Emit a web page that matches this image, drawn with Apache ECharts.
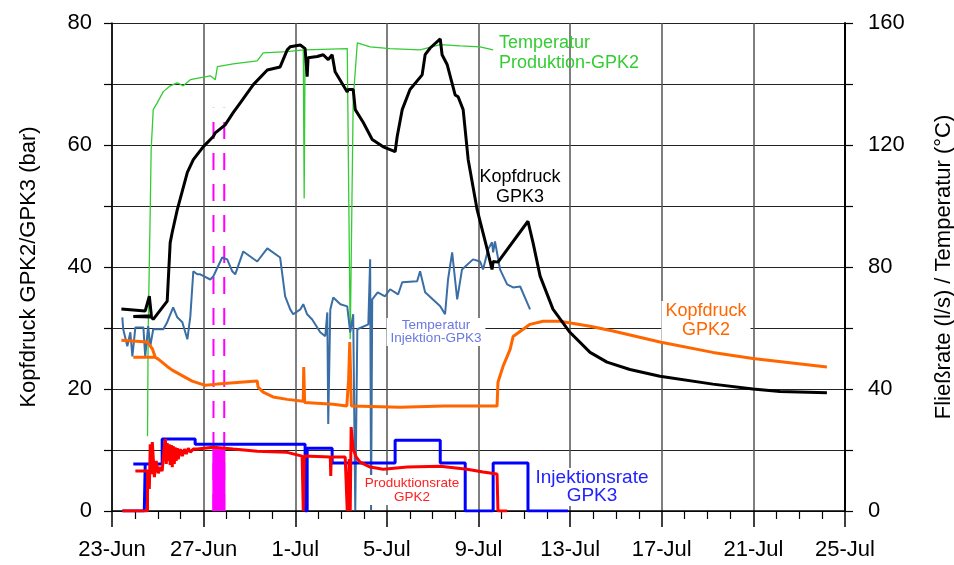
<!DOCTYPE html>
<html>
<head>
<meta charset="utf-8">
<script src="https://cdn.jsdelivr.net/npm/echarts@6/dist/echarts.min.js"></script>
<style>
html,body{margin:0;padding:0;background:#fff;}
#chart{width:954px;height:565px;}
</style>
</head>
<body>
<div id="chart"></div>
<script>
// x = days since 23-Jun
var dateTickLabels = ['23-Jun','27-Jun','1-Jul','5-Jul','9-Jul','13-Jul','17-Jul','21-Jul','25-Jul'];

// Kopfdruck GPK3 (bar)
var kopfdruckGPK3 = [
[0.41,33.1],[1.45,32.8],[1.63,35.2],[1.72,32.0],[0.93,31.9],[1.72,31.8],[1.8,31.4],[2.41,34.4],[2.54,44.0],[2.63,45.7],
[2.85,49.4],[3.29,55.5],[3.55,57.6],[3.98,59.7],[4.42,61.4],[4.51,62.0],[4.94,63.3],[5.29,65.3],[5.6,66.9],
[6.17,69.9],[6.78,72.3],[7.34,72.8],[7.65,75.6],[7.78,76.1],[8.22,76.4],[8.43,75.8],[8.52,71.2],[8.56,74.3],
[8.96,74.5],[9.22,74.8],[9.44,74.0],[9.61,74.8],[9.74,72.0],[10.27,68.7],[10.31,69.1],[10.53,69.1],[10.62,65.8],
[10.97,63.7],[11.36,60.9],[11.84,59.7],[12.36,58.9],[12.45,61.4],[12.67,65.8],[13.01,69.1],[13.54,71.5],
[13.67,74.8],[13.89,75.9],[14.33,77.4],[14.41,74.8],[14.63,73.2],[14.98,68.2],[15.11,67.9],[15.33,65.8],
[15.55,57.6],[15.94,49.4],[16.38,42.9],[16.59,39.6],[16.64,40.9],[16.85,40.8],[18.16,47.5],[18.38,44.0],
[18.69,38.5],[19.25,33.1],[19.99,29.3],[20.87,26.0],[21.61,24.4],[22.61,23.2],[23.92,22.1],[26.23,20.8],
[27.98,20.0],[29.16,19.6],[31.21,19.4]
];

// Kopfdruck GPK2 (bar)
var kopfdruckGPK2 = [
[0.41,28.0],[1.54,27.7],[1.76,26.6],[1.89,25.2],[0.93,25.2],[1.89,25.2],[2.02,24.9],[2.41,23.7],[2.63,23.1],
[3.2,21.9],[3.5,21.3],[4.07,20.6],[4.6,20.8],[5.6,21.1],[6.34,21.3],[6.38,20.3],[6.6,19.5],[7.03,18.7],
[7.65,18.3],[8.35,18.0],[8.37,23.6],[8.41,17.8],[9.66,17.5],[10.25,17.2],[10.33,21.6],[10.38,27.7],[10.45,17.2],
[12.58,17.0],[14.5,17.2],[16.81,17.2],[16.85,21.1],[17.07,23.7],[17.38,26.5],[17.51,28.6],[18.25,30.6],
[18.82,31.1],[19.56,31.1],[20.87,30.3],[21.87,29.5],[23.92,27.7],[26.23,26.0],[27.98,25.0],[31.21,23.6]
];

// Temperatur Produktion-GPK2 (°C)
var tempProduktion = [
[1.55,24.5],[1.58,59.6],[1.67,98.9],[1.71,118.5],[1.8,131.6],[1.98,133.9],[2.24,137.5],[2.54,139.4],
[2.85,140.4],[3.11,139.4],[3.42,141.4],[4.29,142.7],[4.51,141.4],[4.6,145.7],[5.29,146.6],[6.34,147.6],
[6.6,150.2],[7.65,150.6],[8.35,151.2],[8.39,102.5],[8.43,151.2],[10.27,151.6],[10.4,56.3],[10.53,134.9],
[10.71,153.5],[11.27,152.2],[12.14,151.6],[13.45,151.2],[14.33,152.9],[15.2,152.5],[16.07,152.2],[16.64,151.2]
];

// Temperatur Injektion-GPK3 (°C)
var tempInjektion = [
[0.45,63.5],[0.49,59.6],[0.67,54.0],[0.8,58.6],[0.89,50.7],[1.02,60.2],[1.37,60.2],[1.45,50.7],[1.58,60.6],
[1.67,54.0],[1.8,59.6],[2.24,59.6],[2.41,61.9],[2.67,66.8],[2.85,63.5],[3.07,61.9],[3.29,56.3],[3.42,63.8],
[3.55,78.6],[3.72,77.6],[3.85,77.6],[4.29,75.9],[4.42,76.9],[4.81,83.1],[5.03,82.5],[5.25,78.6],[5.38,77.6],
[5.73,85.1],[6.34,81.8],[6.78,86.1],[7.34,83.1],[7.56,70.4],[7.78,66.1],[7.91,64.5],[8.22,66.1],[8.35,67.8],
[8.52,64.5],[8.74,62.8],[9.09,58.6],[9.31,57.3],[9.4,65.1],[9.44,28.5],[9.53,66.1],[9.66,70.0],[9.97,67.8],
[10.27,67.1],[10.4,58.6],[10.53,64.5],[10.62,0.3],[10.71,59.6],[11.19,61.2],[11.27,82.5],[11.31,0.3],
[11.36,69.4],[11.6,71.7],[11.92,70.4],[12.14,72.7],[12.49,71.0],[12.67,75.0],[13.32,75.3],[13.45,78.6],
[13.67,71.7],[14.33,67.1],[14.54,64.5],[14.67,75.9],[14.85,84.8],[15.07,69.4],[15.28,79.2],[15.76,82.5],
[16.07,81.8],[16.2,79.2],[16.42,85.8],[16.59,88.1],[16.64,84.8],[16.72,88.4],[16.94,79.2],[17.25,74.3],
[17.51,73.3],[17.82,73.6],[18.25,66.1]
];

// Injektionsrate GPK3 (l/s)
var injektionsrate = [
[0.45,0],[1.41,0],[1.45,15.4],[0.93,15.4],[2.19,15.4],[2.19,23.6],[3.63,23.6],[3.63,21.9],[8.43,21.9],
[8.43,0],[8.52,0],[8.52,20.6],[9.61,20.6],[9.61,15.7],[12.36,15.7],[12.36,23.2],[14.33,23.2],[14.33,15.7],
[15.42,15.7],[15.42,0],[16.64,0],[16.64,15.7],[18.16,15.7],[18.16,0],[19.91,0]
];

// Produktionsrate GPK2 (l/s)
var produktionsrate = [
[0.45,0],[1.55,0],[1.55,13.1],[1.02,13.1],[1.59,13.1],[1.57,13.7],[1.63,7.2],[1.67,21.9],[1.72,12.1],
[1.76,22.6],[1.85,11.1],[1.93,16.4],[2.02,12.4],[2.11,14.4],[2.19,13.1],[2.28,20.9],[2.33,23.6],[2.37,15.4],
[2.41,22.3],[2.46,16.4],[2.5,21.9],[2.54,15.1],[2.59,21.6],[2.63,14.4],[2.67,21.3],[2.72,15.4],[2.76,20.9],
[2.8,16.4],[2.85,20.6],[2.89,17.0],[2.98,20.3],[3.07,18.0],[3.16,20.3],[3.24,18.7],[3.33,20.6],[3.42,19.3],
[3.55,20.3],[3.72,20.3],[4.42,20.9],[5.29,20.3],[6.34,19.6],[7.6,19.3],[8.3,18.0],[8.35,0],[8.39,18.0],
[9.53,17.7],[9.55,11.5],[9.57,17.7],[10.18,17.7],[10.27,0],[10.36,17.0],[10.4,0],[10.44,27.5],[10.53,20.3],
[10.66,17.7],[10.83,16.0],[11.27,14.4],[11.84,13.7],[12.89,14.4],[14.33,14.7],[15.5,13.7],[16.2,12.8],
[16.81,12.1],[16.85,0],[17.25,0]
];

// Magenta event block (l/s) and dashed markers (bar)
var eventBlock = [[4.38,20.3],[4.95,20.3]];
var eventLine1 = [[4.43,0],[4.43,66.1]];
var eventLine2 = [[4.9,0],[4.9,66.1]];

var FONT = '"Liberation Sans", Arial, sans-serif';
var chart = echarts.init(document.getElementById('chart'));

function lineSeries(name, data, color, width, yIdx, z) {
  return {
    name: name, type: 'line', data: data, yAxisIndex: yIdx, symbol: 'none',
    lineStyle: {color: color, width: width}, z: z, animation: false, silent: true
  };
}

var option = {
  animation: false,
  grid: {left: 112, right: 109, top: 23, bottom: 54, containLabel: false, outerBoundsMode: 'none'},
  xAxis: {
    type: 'value', min: 0, max: 32, interval: 4,
    axisLine: {show: true, onZero: false, lineStyle: {color: '#000', width: 1.5}},
    axisTick: {show: true, length: 16, lineStyle: {color: '#000', width: 1.5}},
    minorTick: {show: true, splitNumber: 4, length: 8, lineStyle: {color: '#000', width: 1.2}},
    axisLabel: {
      color: '#000', fontSize: 22, fontFamily: FONT, margin: 28,
      formatter: function (v) { return dateTickLabels[Math.round(v / 4)]; }
    },
    splitLine: {show: true, lineStyle: {color: '#555', width: 1.5}}
  },
  yAxis: [
    {
      type: 'value', min: 0, max: 80, interval: 10, position: 'left',
      name: 'Kopfdruck GPK2/GPK3 (bar)', nameLocation: 'middle', nameGap: 72,
      nameTextStyle: {color: '#000', fontSize: 22, fontFamily: FONT},
      axisLine: {show: true, lineStyle: {color: '#000', width: 1.5}},
      axisTick: {show: true, length: 8, lineStyle: {color: '#000', width: 1.2}},
      axisLabel: {
        color: '#000', fontSize: 22, fontFamily: FONT, margin: 20,
        formatter: function (v) { return v % 20 === 0 ? String(v) : ''; }
      },
      splitLine: {show: true, lineStyle: {color: '#222', width: 1}}
    },
    {
      type: 'value', min: 0, max: 160, interval: 20, position: 'right',
      name: 'Fließrate (l/s) / Temperatur (°C)', nameLocation: 'middle', nameGap: 88,
      nameRotate: 90,
      nameTextStyle: {color: '#000', fontSize: 22, fontFamily: FONT},
      axisLine: {show: true, lineStyle: {color: '#000', width: 2}},
      axisTick: {show: true, length: 8, lineStyle: {color: '#000', width: 1.2}},
      axisLabel: {
        color: '#000', fontSize: 22, fontFamily: FONT, margin: 23,
        formatter: function (v) { return v % 40 === 0 ? String(v) : ''; }
      },
      splitLine: {show: false}
    }
  ],
  series: [
    {
      name: 'event', type: 'line', data: eventBlock, yAxisIndex: 1, symbol: 'none',
      lineStyle: {width: 0}, areaStyle: {color: '#ff00ff', opacity: 1}, z: 2, silent: true
    },
    {
      name: 'ev1', type: 'line', data: eventLine1, yAxisIndex: 0, symbol: 'none', z: 2, silent: true,
      lineStyle: {color: '#ff00ff', width: 2, type: [17, 14]}
    },
    {
      name: 'ev2', type: 'line', data: eventLine2, yAxisIndex: 0, symbol: 'none', z: 2, silent: true,
      lineStyle: {color: '#ff00ff', width: 2, type: [17, 14]}
    },
    lineSeries('Temperatur Produktion-GPK2', tempProduktion, '#33cc33', 1.3, 1, 3),
    lineSeries('Temperatur Injektion-GPK3', tempInjektion, '#3a6ea5', 2, 1, 4),
    lineSeries('Kopfdruck GPK2', kopfdruckGPK2, '#ff6600', 3, 0, 5),
    lineSeries('Kopfdruck GPK3', kopfdruckGPK3, '#000000', 3, 0, 6),
    lineSeries('Injektionsrate GPK3', injektionsrate, '#0000ff', 3, 1, 7),
    lineSeries('Produktionsrate GPK2', produktionsrate, '#ff0000', 3, 1, 8)
  ],
  graphic: [
    {type: 'text', x: 499, y: 33, z: 100, style: {text: 'Temperatur\nProduktion-GPK2', fill: '#33cc33',
      font: '18px ' + FONT, lineHeight: 20, align: 'left', verticalAlign: 'top'}},
    {type: 'text', x: 520, y: 167, z: 100, style: {text: 'Kopfdruck\nGPK3', fill: '#000',
      font: '18px ' + FONT, lineHeight: 20, align: 'center', verticalAlign: 'top'}},
    {type: 'text', x: 436, y: 318, z: 100, style: {text: 'Temperatur\nInjektion-GPK3', fill: '#6a78e0',
      font: '13.5px ' + FONT, lineHeight: 13, align: 'center', verticalAlign: 'top',
      backgroundColor: '#fff', padding: [1, 4, 1, 4]}},
    {type: 'text', x: 706, y: 301, z: 100, style: {text: 'Kopfdruck\nGPK2', fill: '#ff6600',
      font: '18px ' + FONT, lineHeight: 19, align: 'center', verticalAlign: 'top',
      backgroundColor: '#fff', padding: [1, 4, 1, 4]}},
    {type: 'text', x: 412, y: 475, z: 100, style: {text: 'Produktionsrate\nGPK2', fill: '#ff2020',
      font: '13.5px ' + FONT, lineHeight: 14, align: 'center', verticalAlign: 'top',
      backgroundColor: '#fff', padding: [1, 2, 1, 2]}},
    {type: 'text', x: 592, y: 468, z: 100, style: {text: 'Injektionsrate\nGPK3', fill: '#2222ff',
      font: '19px ' + FONT, lineHeight: 18, align: 'center', verticalAlign: 'top',
      backgroundColor: '#fff', padding: [1, 3, 1, 3]}}
  ]
};
chart.setOption(option);
</script>
</body>
</html>
